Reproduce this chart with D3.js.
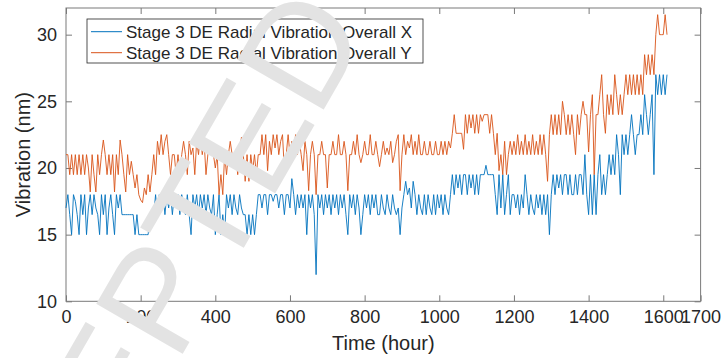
<!DOCTYPE html>
<html>
<head>
<meta charset="utf-8">
<script src="https://cdn.jsdelivr.net/npm/d3@7"></script>
<style>
  body { margin: 0; background: #fff; }
  text { font-family: "Liberation Sans", Arial, Helvetica, sans-serif; }
</style>
</head>
<body>
<div id="chart"></div>
<script>
// readings every 5 hours, starting at hour 0
var hourStep = 5;

var seriesNames = ["Stage 3 DE Radial Vibration Overall X", "Stage 3 DE Radial Vibration Overall Y"];
var xTicks = [0, 200, 400, 600, 800, 1000, 1200, 1400, 1600, 1700];
var yTicks = [10, 15, 20, 25, 30];

var overallX = [
  17,18,16.5,15,18,17.5,16.5,15,18,16.5,18,15,17,18,16.5,18,17,16.5,15,18,
  16.5,18,15,17,18,16.5,15,18,17,18,16.5,16.5,16.5,16.5,16.5,16.5,16.5,15,16.5,15,
  15,15,15,15,15,16.5,16.5,16.5,18,16.5,18,17,18,16.5,18,17,18,16.5,18,17,
  18,16.5,18,17,16.5,18,16.5,15,18,17,18,16.5,18,17,18,16.5,18,17,16.5,18,
  15,16.5,18,15,16.5,15,18,17,18,16.5,18,17,16.5,18,17,16.5,16.5,15,16.5,15,
  16.5,15,16.5,18,18,17,18,18,16.5,18,18,17.5,18,18,17,18,18,16.5,18,18,
  17,19.2,18,16.5,18,17,18,17,18,15,18,17,18,16.5,12,18,17,18,16.5,18,
  17,18,16.5,18,17,18,16.5,18,17,18,16.5,15,18,17,18,16.5,18,17,15,16.5,
  18,17,18,16.5,18,17,18,16.5,16.5,18,17,16.5,18,17,16.5,18,17,16.5,17,15,
  17,18,19,18,18.5,17,19,18,16.5,18,17,16.5,18,16.5,18,17,16.5,18,16.5,18,
  17,18,16.5,18,17,16.5,18,19.5,18,19.5,18.5,19.5,18,19.5,19.5,18,19.5,18.5,19.5,18,
  19.5,18,19.5,19.5,19.5,20.2,19.5,19.5,19.5,19.5,18,16.5,19.5,17,19.5,16.5,18,19.5,16.5,18,
  18,17,18,16.5,18,17,19.5,18,16.5,18,17,16.5,18,17,18,16.5,18,16.5,18,15,
  18,19.5,18,19.5,18.5,19.5,18,19.5,19.5,18,19.5,18,18,19.5,18,19.5,19.5,18,21,18,
  16.5,19.5,16.5,19.5,16.5,19.5,21,18,19.5,18,19.5,21,19.5,21,19.5,22.5,21,18,22.5,21,
  22.5,21,22.5,24,22.5,21,22.5,22.5,24,22.5,25.5,24,22.5,24,25.5,19.5,27,25.5,27,25.5,
  27,25.5,27
];

var overallY = [
  21,21,19.5,21,19.5,21,19.5,21,19.5,21,19.5,21,20,18.2,21,19.5,18.2,21,19.5,21,
  22.1,21,19.5,21,19.5,21,18.2,21,19.5,22.1,21,19.5,18.2,21,19.5,20.5,19.5,18.5,19.5,18,
  17.6,17.4,18.5,18,19.5,18.2,19.5,21,19.5,22,21,22.5,21,22,22.5,21,19.5,21,21,19.5,
  21,19.5,21,22,21,19.5,22,21,21.5,19.5,22,21,22.5,21,22,19.5,21,22,21,21,
  20,21,18,19.5,18,21,19.5,21,22,21,20.5,21,19.5,21,22.3,21,19,21,19,21,
  19.8,21,19.5,21,21,22.5,21,22.5,19.8,22,21,22.5,21.5,22.5,21,22,22.5,19.8,21,22.5,
  21,22,21,22.5,21,22,21,19.8,22,21,18.3,21,22,21,18,21,21,22,21,21,
  18.5,21,21,22,21,21,22.5,21,21,22,21,18.3,21,21,22,21,22.5,21,20.4,21,
  22,21,21,22.5,21,21,22,21,20.1,21,22,21,21.5,21,22,20.4,21,22,22.5,18.3,
  21,22.5,21,22,21.5,22.5,21,22,21,22.5,21,21,22,21,21,22,21,21,22,21,
  21,22,21,22,21,22,21.5,22.6,24,22.6,22.6,22.6,22.6,21.4,24,22.6,24,23,24,22.6,
  24,22.6,24,23.5,24,24,24,22.6,24,22.6,21,22.6,19.8,21,19.5,22,19.5,21,22,21,
  22,21,22.5,21,22,21,22.5,21,22,21,22.5,21,22,21,22.5,21,22.5,21,19,22.5,
  24,22.5,24,22.5,24,22.5,25,24,22.5,24,22.5,24,22.5,21,24,22.5,24,25,24,24,
  21.2,24,25.5,19.5,24,24,25.5,27,24,22.6,25.5,24,25.5,24,27,25.5,24,25.5,24,25.5,
  27,25.5,27,25.5,27,25.5,27,25.5,27,25.5,28.5,27,28.5,27,28.5,27,30,31.5,30,30,
  30,31.5,30
];

var colors = ["#0072BD", "#D95319"];

// canvas and plot box
var width = 721, height = 358;
var margin = {top: 8, right: 20.4, bottom: 56.7, left: 66};

var svg = d3.select("#chart").append("svg")
    .attr("width", width)
    .attr("height", height);

var x = d3.scaleLinear().domain([0, 1700]).range([margin.left, width - margin.right]);
var y = d3.scaleLinear().domain([10, 32]).range([height - margin.bottom, margin.top]);

var axisColor = "#7a7a7a", textColor = "#262626";

function styleAxis(g, showText) {
    g.select(".domain").remove();
    g.selectAll(".tick line").attr("stroke", axisColor);
    g.selectAll(".tick text")
        .attr("fill", textColor)
        .style("font-size", "18px")
        .attr("display", showText ? null : "none");
}

svg.append("g")
    .attr("transform", "translate(0," + y(10) + ")")
    .call(d3.axisBottom(x).tickValues(xTicks).tickFormat(d3.format("d")).tickSizeInner(-6).tickSizeOuter(0).tickPadding(9))
    .call(styleAxis, true);

svg.append("g")
    .attr("transform", "translate(0," + y(32) + ")")
    .call(d3.axisTop(x).tickValues(xTicks).tickSizeInner(-6).tickSizeOuter(0))
    .call(styleAxis, false);

svg.append("g")
    .attr("transform", "translate(" + x(0) + ",0)")
    .call(d3.axisLeft(y).tickValues(yTicks).tickSizeInner(-6).tickSizeOuter(0).tickPadding(9))
    .call(styleAxis, true);

svg.append("g")
    .attr("transform", "translate(" + x(1700) + ",0)")
    .call(d3.axisRight(y).tickValues(yTicks).tickSizeInner(-6).tickSizeOuter(0))
    .call(styleAxis, false);

// box
svg.append("rect")
    .attr("x", x(0)).attr("y", y(32))
    .attr("width", x(1700) - x(0)).attr("height", y(10) - y(32))
    .attr("fill", "none").attr("stroke", axisColor).attr("stroke-width", 1);

var line = d3.line()
    .x(function(d, i) { return x(i * hourStep); })
    .y(function(d) { return y(d); });

[overallX, overallY].forEach(function(s, k) {
    svg.append("path")
        .datum(s)
        .attr("d", line)
        .attr("fill", "none")
        .attr("stroke", colors[k])
        .attr("stroke-width", 0.9)
        .attr("stroke-linejoin", "miter");
});

// axis labels
svg.append("text")
    .attr("x", (x(0) + x(1700)) / 2).attr("y", 350)
    .attr("text-anchor", "middle")
    .attr("fill", textColor)
    .style("font-size", "20px")
    .text("Time (hour)");

svg.append("text")
    .attr("transform", "translate(30," + (y(10) + y(32)) / 2 + ") rotate(-90)")
    .attr("text-anchor", "middle")
    .attr("fill", textColor)
    .style("font-size", "20px")
    .text("Vibration (nm)");

// legend
var legend = svg.append("g");
legend.append("rect")
    .attr("x", 87).attr("y", 19).attr("width", 336).attr("height", 44)
    .attr("fill", "#fff").attr("stroke", "#262626").attr("stroke-width", 0.8);

seriesNames.forEach(function(name, k) {
    var ly = 31.7 + k * 21;
    legend.append("line")
        .attr("x1", 91).attr("x2", 122).attr("y1", ly).attr("y2", ly)
        .attr("stroke", colors[k]).attr("stroke-width", 1);
    legend.append("text")
        .attr("x", 126).attr("y", ly).attr("dy", "0.35em")
        .attr("fill", textColor)
        .style("font-size", "17px")
        .text(name);
});

// watermark over the figure
svg.append("text")
    .attr("transform", "translate(370,29) rotate(-60)")
    .attr("text-anchor", "end")
    .attr("fill", "#e3e3e3")
    .style("font-size", "145px")
    .text("ACCEPTED");
</script>
</body>
</html>
